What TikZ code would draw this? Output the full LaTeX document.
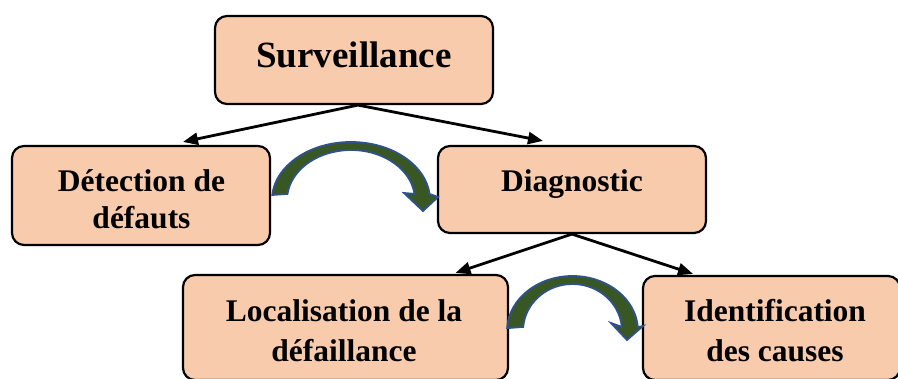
\documentclass[tikz,border=0pt]{standalone}
\usepackage{fontspec}
\setmainfont{Liberation Serif}
\usetikzlibrary{arrows.meta,calc}
\definecolor{boxfill}{HTML}{F8CBAD}
\definecolor{curvefill}{HTML}{385723}
\definecolor{curveline}{HTML}{2F528F}
\tikzset{
  box/.style={draw=black, line width=2.2pt, fill=boxfill, rounded corners=12pt, inner sep=0pt},
  lbl/.style={font=\fontsize{31.5}{37}\selectfont\bfseries, align=center, inner sep=0pt},
  link/.style={draw=black, line width=2.8pt, -{Triangle[length=15pt,width=12pt]}},
  bendarrow/.style={fill=curvefill, draw=curveline, line width=1.8pt, line join=miter},
}
\begin{document}
\begin{tikzpicture}[x=1pt,y=1pt]
  \useasboundingbox (0,0) rectangle (898,-378);
  \clip (0,0) rectangle (898,-378);

  % boxes
  \node[box, minimum width=278pt, minimum height=88pt]  (surv)  at (354,-60)    {};
  \node[box, minimum width=258pt, minimum height=99pt]  (det)   at (141,-195.5) {};
  \node[box, minimum width=268pt, minimum height=87pt]  (diag)  at (572,-189.5) {};
  \node[box, minimum width=325pt, minimum height=105pt] (loc)   at (345.5,-327.5) {};
  \node[box, minimum width=257pt, minimum height=104pt] (ident) at (771.5,-328) {};

  % texts
  \node[lbl, font=\fontsize{37}{42}\selectfont\bfseries, anchor=base] (surv-t) at (354,-67) {Surveillance};
  \node[lbl, anchor=base] (diag-t) at (572,-191.7) {Diagnostic};
  \node[lbl] (det-t) at (141.5,-199.3) {Détection de\\défauts};
  \node[lbl, font=\fontsize{31.5}{40}\selectfont\bfseries] (loc-t) at (344,-331) {Localisation de la\\défaillance};
  \node[lbl, font=\fontsize{31.5}{40}\selectfont\bfseries] (ident-t) at (775,-331) {Identification\\des causes};

  % connector end points on the box borders
  \path ($(surv.south)+(4,0)$) coordinate (surv-out);
  \path ($(det.north)+(42,3)$) coordinate (det-in);
  \path ($(diag.north)+(-29,4)$) coordinate (diag-in);
  \path (diag.south) coordinate (diag-out);
  \path ($(loc.north)+(110,1)$) coordinate (loc-in);
  \path ($(ident.north)+(-78.5,1)$) coordinate (ident-in);

  % straight connectors
  \draw[link] (surv-out) -- (det-in);
  \draw[link] (surv-out) -- (diag-in);
  \draw[link] (diag-out) -- (loc-in);
  \draw[link] (diag-out) -- (ident-in);

  % curved block arrows
  \coordinate (bend1) at (351,-200);
  \draw[bendarrow] ($(bend1)+(175:79 and 58)$)
      arc[start angle=175, end angle=6, x radius=79, y radius=58]
      -- ($(bend1)+(87,3)$) -- ($(bend1)+(72,-11)$) -- ($(bend1)+(53,7)$)
      -- ($(bend1)+(7:64 and 50)$)
      arc[start angle=7, end angle=173, x radius=64, y radius=50] -- cycle;

  \coordinate (bend2) at (572.5,-331);
  \draw[bendarrow] ($(bend2)+(177:65.5 and 55)$)
      arc[start angle=177, end angle=4, x radius=65.5, y radius=55]
      -- ($(bend2)+(70.5,5)$) -- ($(bend2)+(54.5,-9)$) -- ($(bend2)+(38.5,8)$)
      -- ($(bend2)+(5:49.5 and 47)$)
      arc[start angle=5, end angle=175, x radius=49.5, y radius=47] -- cycle;
\end{tikzpicture}
\end{document}
